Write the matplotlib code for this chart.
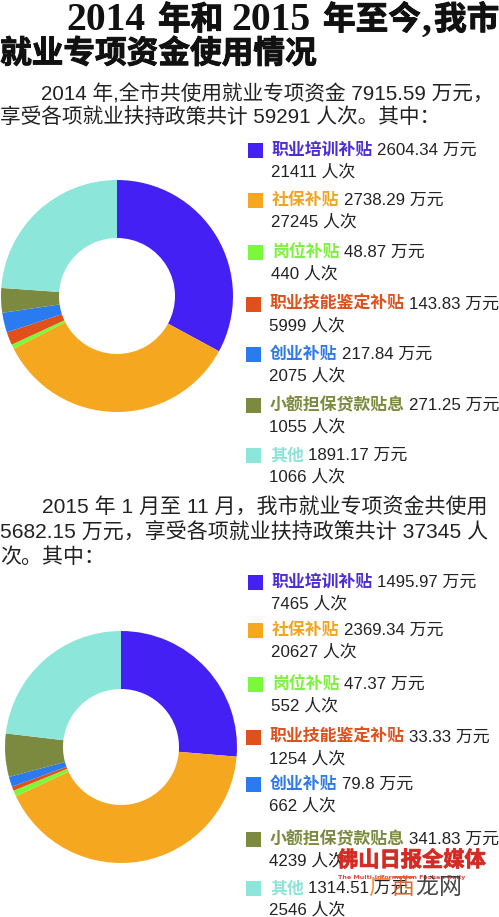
import matplotlib
matplotlib.use("Agg")
import matplotlib.pyplot as plt
import matplotlib.patheffects as pe

plt.rcParams['font.family'] = ['Noto Sans CJK SC', 'DejaVu Sans']

W, H = 499, 917

categories = ["职业培训补贴", "社保补贴", "岗位补贴", "职业技能鉴定补贴",
              "创业补贴", "小额担保贷款贴息", "其他"]
funds_2014 = [2604.34, 2738.29, 48.87, 143.83, 217.84, 271.25, 1891.17]
people_2014 = [21411, 27245, 440, 5999, 2075, 1055, 1066]
funds_2015 = [1495.97, 2369.34, 47.37, 33.33, 79.8, 341.83, 1314.51]
people_2015 = [7465, 20627, 552, 1254, 662, 4239, 2546]
fund_labels_2014 = ["2604.34", "2738.29", "48.87", "143.83", "217.84", "271.25", "1891.17"]
fund_labels_2015 = ["1495.97", "2369.34", "47.37", "33.33", "79.8", "341.83", "1314.51"]

colors = ["#4420f5", "#f5a81f", "#7cf83a", "#e0501a", "#2b7bf0", "#7b8a3e", "#8de6da"]
label_colors = ["#4a2fd8", "#f0a520", "#7ef040", "#e0501a", "#2f7ae8", "#7b8a3e", "#8ee3d8"]

fig = plt.figure(figsize=(W / 100, H / 100), dpi=100)
fig.patch.set_facecolor("white")
renderer = fig.canvas.get_renderer()


def fx(x):
    return x / W


def fy(y):
    return 1 - y / H


def txt(x, y, s, size, color="#222222", **kw):
    return fig.text(fx(x), fy(y), s, fontsize=size, color=color, ha="left", va="center", **kw)


# Title, placed piece by piece
serif = ["Liberation Serif", "Noto Sans CJK SC"]
thick = [pe.withStroke(linewidth=0.7, foreground="#111111")]
title_pieces = [("2014", 66, "d"), ("年和", 158, "c"), ("2015", 231, "d"),
                ("年至今", 323, "c"), (",", 421, "d"), ("我市", 434, "c")]
for s, x, kind in title_pieces:
    if kind == "d":
        txt(x, 21, s, 28.5, color="#111111", family=serif, fontweight="bold")
    else:
        txt(x, 20, s, 23.5, color="#111111", fontweight="bold", path_effects=thick)
txt(0, 54, "就业专项资金使用情况", 22.8, color="#111111", fontweight="bold",
    path_effects=thick)

# Intro texts
body = 14.9
bodyfam = ["Liberation Sans", "Noto Sans CJK SC"]
txt(41, 94, "2014 年,全市共使用就业专项资金 7915.59 万元，", body, family=bodyfam)
txt(0, 117, "享受各项就业扶持政策共计 59291 人次。其中：", body, family=bodyfam)

txt(42, 508, "2015 年 1 月至 11 月，我市就业专项资金共使用", 15.1, family=bodyfam)
txt(0, 533, "5682.15 万元，享受各项就业扶持政策共计 37345 人", 15.1, family=bodyfam)
txt(0, 557, "次。其中：", 15.1, family=bodyfam)


def donut(cx, cy, R, values):
    ax = fig.add_axes([fx(cx - R), fy(cy + R), 2 * R / W, 2 * R / H])
    ax.pie(values, colors=colors, startangle=90, counterclock=False, radius=1,
           wedgeprops=dict(width=0.5, edgecolor="none"))
    ax.set_xlim(-1, 1)
    ax.set_ylim(-1, 1)
    ax.set_aspect("equal")
    ax.axis("off")


donut(117, 296, 116, funds_2014)
donut(121, 747, 116, funds_2015)


def legend(ys, fund_labels, people):
    for i, cat in enumerate(categories):
        y = ys[i]
        x0 = 248 if i < 3 else 246
        fig.patches.append(plt.Rectangle((fx(x0), fy(y + 7.5)), 15 / W, 15 / H,
                                         transform=fig.transFigure,
                                         facecolor=colors[i], edgecolor="none"))
        xt = x0 + 24
        t = txt(xt, y, cat, 12.2, color=label_colors[i], fontweight="bold")
        bb = t.get_window_extent(renderer=renderer)
        txt(bb.x1 + 4, y, fund_labels[i] + " 万元", 12.2, family=bodyfam)
        txt(xt - 1, y + 22, f"{people[i]} 人次", 12.2, family=bodyfam)


legend([150, 200, 252, 304, 354, 405, 455], fund_labels_2014, people_2014)
legend([582, 630, 684, 737, 784, 839, 888], fund_labels_2015, people_2015)

# Watermark
txt(337, 860, "佛山日报全媒体", 15.3, color="#d42a24",
    fontweight="bold", alpha=0.92,
    path_effects=[pe.withStroke(linewidth=0.6, foreground="#d42a24")])
txt(338, 877, "The Multi-Information Foshan Daily", 4.6, color="#d42a24",
    fontweight="bold", alpha=0.85, family=["DejaVu Sans"])
wm = [("广", "#f08a30"), ("西", "#e05a20"), ("龙", "#333333"), ("网", "#333333")]
for k, (ch, c) in enumerate(wm):
    txt(368 + k * 23.5, 887, ch, 16.5, color=c, alpha=0.9)

fig.savefig("out.png", dpi=100, facecolor="white")
